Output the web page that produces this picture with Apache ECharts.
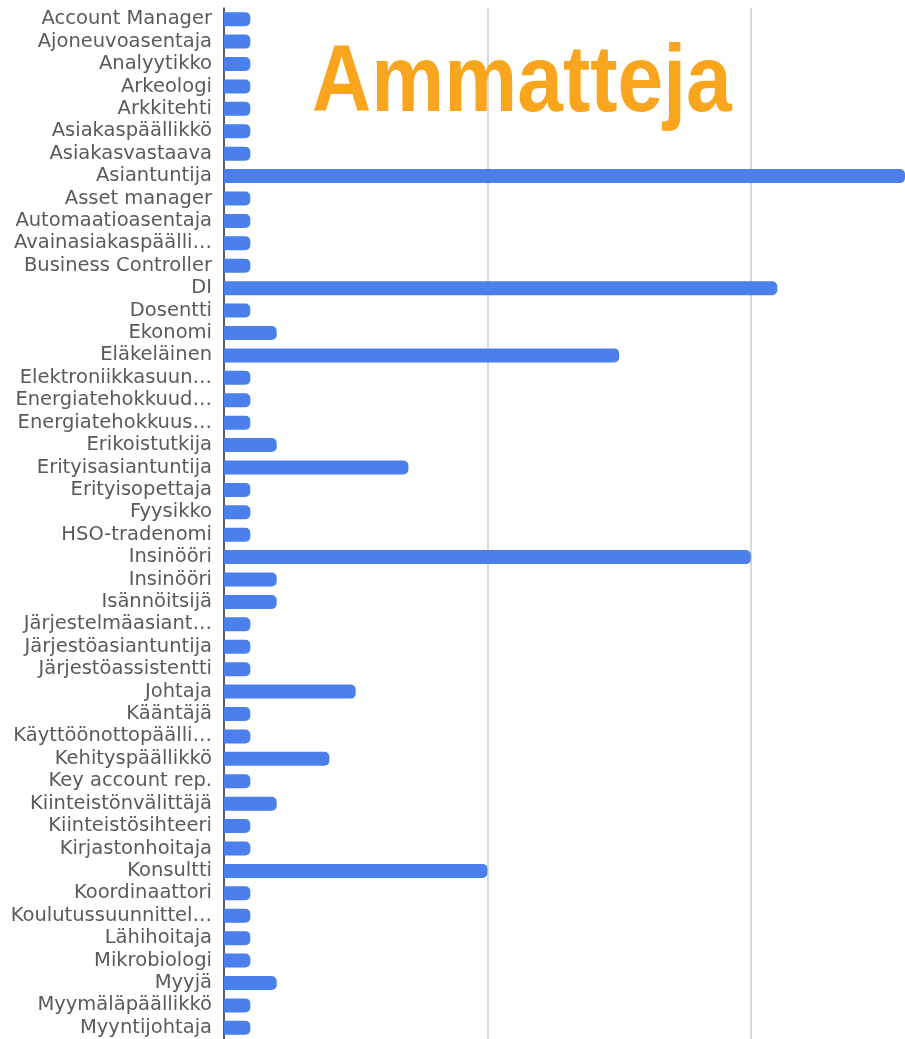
<!DOCTYPE html>
<html>
<head>
<meta charset="utf-8">
<script src="https://cdn.jsdelivr.net/npm/echarts@6/dist/echarts.min.js"></script>
<style>
html,body{margin:0;padding:0;background:#fff;}
#chart{width:905px;height:1039px;}
</style>
</head>
<body>
<div id="chart"></div>
<script>
const titleText = 'Ammatteja';
const categories = [
  'Account Manager','Ajoneuvoasentaja','Analyytikko','Arkeologi','Arkkitehti',
  'Asiakaspäällikkö','Asiakasvastaava','Asiantuntija','Asset manager','Automaatioasentaja',
  'Avainasiakaspäälli…','Business Controller','DI','Dosentti','Ekonomi',
  'Eläkeläinen','Elektroniikkasuun…','Energiatehokkuud…','Energiatehokkuus…','Erikoistutkija',
  'Erityisasiantuntija','Erityisopettaja','Fyysikko','HSO-tradenomi','Insinööri',
  'Insinööri','Isännöitsijä','Järjestelmäasiant…','Järjestöasiantuntija','Järjestöassistentti',
  'Johtaja','Kääntäjä','Käyttöönottopäälli…','Kehityspäällikkö','Key account rep.',
  'Kiinteistönvälittäjä','Kiinteistösihteeri','Kirjastonhoitaja','Konsultti','Koordinaattori',
  'Koulutussuunnittel…','Lähihoitaja','Mikrobiologi','Myyjä','Myymäläpäällikkö',
  'Myyntijohtaja'
];
const counts = [
  1,1,1,1,1,
  1,1,26,1,1,
  1,1,21,1,2,
  15,1,1,1,2,
  7,1,1,1,20,
  2,2,1,1,1,
  5,1,1,4,1,
  2,1,1,10,1,
  1,1,1,2,1,
  1
];
const xMin = 0;
const xStep = 10;
const xVisibleMax = 25.85;

const chart = echarts.init(document.getElementById('chart'), null, {renderer: 'canvas'});
chart.setOption({
  animation: false,
  backgroundColor: '#ffffff',
  grid: {left: 224, right: 0, top: 8, bottom: 0, containLabel: false},
  xAxis: {
    type: 'value',
    min: xMin,
    max: xVisibleMax,
    interval: xStep,
    axisLine: {show: false},
    axisTick: {show: false},
    axisLabel: {show: false},
    splitLine: {show: true, showMaxLine: false, lineStyle: {color: '#cccccc', width: 1.5}}
  },
  yAxis: {
    type: 'category',
    inverse: true,
    data: categories,
    axisLine: {show: true, lineStyle: {color: '#333333', width: 1.5}},
    axisTick: {show: false},
    axisLabel: {
      color: '#5a5a5a',
      fontFamily: 'DejaVu Sans',
      fontSize: 19.5,
      margin: 12,
      interval: 0
    }
  },
  series: [{
    type: 'bar',
    data: counts,
    barWidth: 14,
    itemStyle: {color: '#4a7fec', borderRadius: [0, 5, 5, 0]}
  }],
  graphic: [{
    type: 'text',
    left: 312,
    top: 37,
    scaleX: 0.864,
    originX: 0,
    z: 100,
    style: {
      text: titleText,
      fill: '#f9a61e',
      font: 'bold 95px "Liberation Sans", Arial, sans-serif'
    }
  }]
});
</script>
</body>
</html>
